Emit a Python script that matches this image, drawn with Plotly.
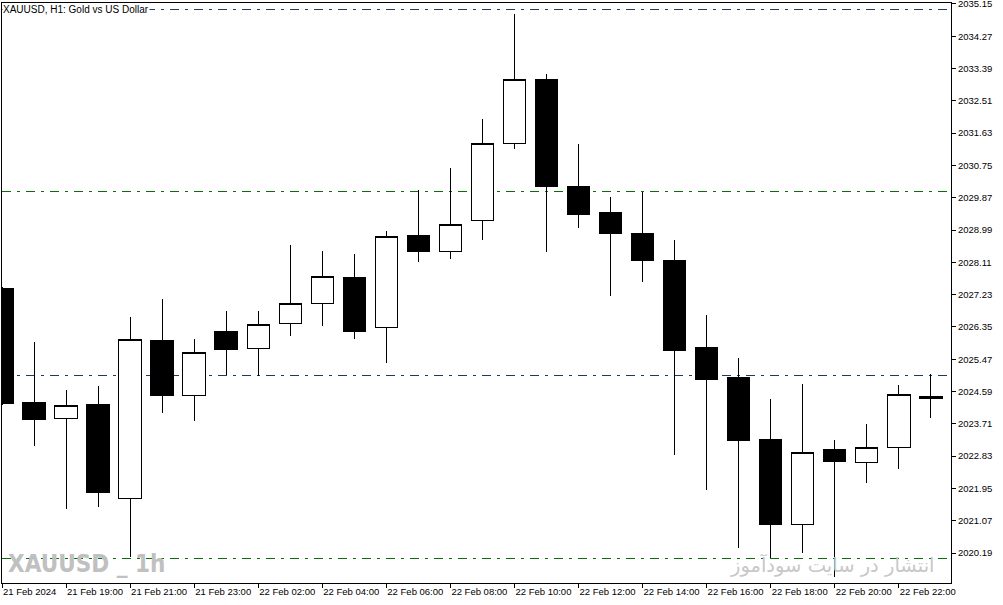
import plotly.graph_objects as go

# ---- data ----
bar_index = list(range(30))
opens  = [2027.40, 2024.30, 2023.86, 2024.25, 2021.68, 2025.99, 2024.49, 2026.23, 2025.77, 2026.45,
          2027.00, 2027.70, 2026.34, 2028.85, 2028.41, 2029.26, 2031.35, 2033.10, 2030.18, 2029.46,
          2028.91, 2028.15, 2025.78, 2024.96, 2023.27, 2020.97, 2023.00, 2022.66, 2023.06, 2024.40]
highs  = [2027.45, 2025.94, 2024.63, 2024.74, 2026.62, 2027.10, 2026.01, 2026.78, 2026.78, 2028.58,
          2028.42, 2028.34, 2028.96, 2030.08, 2030.68, 2032.02, 2034.88, 2033.24, 2031.34, 2029.89,
          2030.02, 2028.72, 2026.68, 2025.50, 2024.39, 2024.80, 2023.27, 2023.71, 2024.77, 2025.06]
lows   = [2024.22, 2023.11, 2021.40, 2021.45, 2020.09, 2024.01, 2023.80, 2025.03, 2025.01, 2026.11,
          2026.38, 2026.03, 2025.38, 2028.13, 2028.21, 2028.73, 2031.21, 2028.40, 2029.05, 2027.19,
          2027.58, 2022.87, 2021.92, 2020.34, 2020.05, 2020.18, 2019.54, 2022.11, 2022.47, 2023.88]
closes = [2024.27, 2023.82, 2024.22, 2021.83, 2026.01, 2024.48, 2025.66, 2025.73, 2026.42, 2027.00,
          2027.73, 2026.22, 2028.82, 2028.40, 2029.15, 2031.35, 2033.10, 2030.17, 2029.41, 2028.89,
          2028.16, 2025.70, 2024.91, 2023.25, 2020.96, 2022.93, 2022.68, 2023.07, 2024.52, 2024.46]

tick_positions = [0, 2, 4, 6, 8, 10, 12, 14, 16, 18, 20, 22, 24, 26, 28]
tick_labels = ["21 Feb 2024", "21 Feb 19:00", "21 Feb 21:00", "21 Feb 23:00", "22 Feb 02:00",
               "22 Feb 04:00", "22 Feb 06:00", "22 Feb 08:00", "22 Feb 10:00", "22 Feb 12:00",
               "22 Feb 14:00", "22 Feb 16:00", "22 Feb 18:00", "22 Feb 20:00", "22 Feb 22:00"]

price_ticks = [2035.15, 2034.27, 2033.39, 2032.51, 2031.63, 2030.75, 2029.87, 2028.99, 2028.11,
               2027.23, 2026.35, 2025.47, 2024.59, 2023.71, 2022.83, 2021.95, 2021.07, 2020.19]

level_prices = [2035.01, 2030.03, 2025.04, 2020.05]
level_colors = ["#1a3c64", "#0d6a0d", "#1a3c64", "#0d6a0d"]

title_text = "XAUUSD, H1: Gold vs US Dollar"
watermark_left = "XAUUSD _ 1h"
watermark_right = "انتشار در سایت سودآموز"

# ---- figure ----
fig = go.Figure()
fig.add_trace(go.Candlestick(
    x=bar_index, open=opens, high=highs, low=lows, close=closes,
    increasing=dict(line=dict(color="black", width=1), fillcolor="white"),
    decreasing=dict(line=dict(color="black", width=1), fillcolor="black"),
    whiskerwidth=0, hoverinfo="skip", showlegend=False,
))

shapes = []
for p, c in zip(level_prices, level_colors):
    shapes.append(dict(type="line", xref="paper", x0=0, x1=1, yref="y", y0=p, y1=p,
                       line=dict(color=c, width=1, dash="9px,6px,3px,6px"), layer="below"))

fig.update_layout(
    width=1003, height=605,
    margin=dict(l=2, r=52, t=3, b=22),
    paper_bgcolor="white", plot_bgcolor="white",
    font=dict(family="Liberation Sans, Arial, sans-serif", size=9.5, color="black"),
    boxgap=0.3, boxgroupgap=0,
    shapes=shapes,
    xaxis=dict(
        range=[0, 29.63], rangeslider=dict(visible=False), showgrid=False, zeroline=False,
        tickvals=tick_positions, ticktext=tick_labels, ticks="outside", ticklen=4,
        tickcolor="black", ticklabelposition="outside right", tickangle=0,
        ticklabeloverflow="allow", automargin=False,
        showline=True, linecolor="black", linewidth=1, mirror=True,
        fixedrange=True,
    ),
    yaxis=dict(
        range=[2019.373, 2035.177], side="right", showgrid=False, zeroline=False,
        tickvals=price_ticks, ticktext=[f"{v:.2f}" for v in price_ticks],
        ticks="outside", ticklen=4, tickcolor="black",
        ticklabeloverflow="allow", automargin=False,
        showline=True, linecolor="black", linewidth=1, mirror=True,
        fixedrange=True,
    ),
    annotations=[
        dict(text=title_text, xref="paper", yref="paper", x=0, y=1, xanchor="left", yanchor="top",
             xshift=0, yshift=0, showarrow=False, borderpad=0,
             font=dict(family="Liberation Sans, Arial, sans-serif", size=10, color="black"),
             bgcolor="white"),
        dict(text=watermark_left, xref="paper", yref="paper", x=0, y=0, xanchor="left", yanchor="bottom",
             xshift=4, yshift=3, showarrow=False,
             font=dict(family="Liberation Sans Narrow, DejaVu Sans Condensed, Liberation Sans, sans-serif",
                       size=24, color="#c0c0c0", weight="bold")),
        dict(text=watermark_right, xref="paper", yref="paper", x=1, y=0, xanchor="right", yanchor="bottom",
             xshift=-15, yshift=4, showarrow=False,
             font=dict(family="DejaVu Sans, sans-serif", size=19.5, color="#c8c8c8")),
    ],
)

post_js = (
    "document.body.style.margin='0';document.body.style.overflow='hidden';"
    "var gd=document.getElementsByClassName('plotly-graph-div')[0];"
    "function crisp(){document.querySelectorAll('.shapelayer path, .boxlayer path').forEach("
    "function(p){p.style.shapeRendering='crispEdges';});}"
    "crisp();if(gd&&gd.on){gd.on('plotly_afterplot',crisp);}"
)
fig.write_html("out.html", config={"displayModeBar": False}, post_script=post_js)
